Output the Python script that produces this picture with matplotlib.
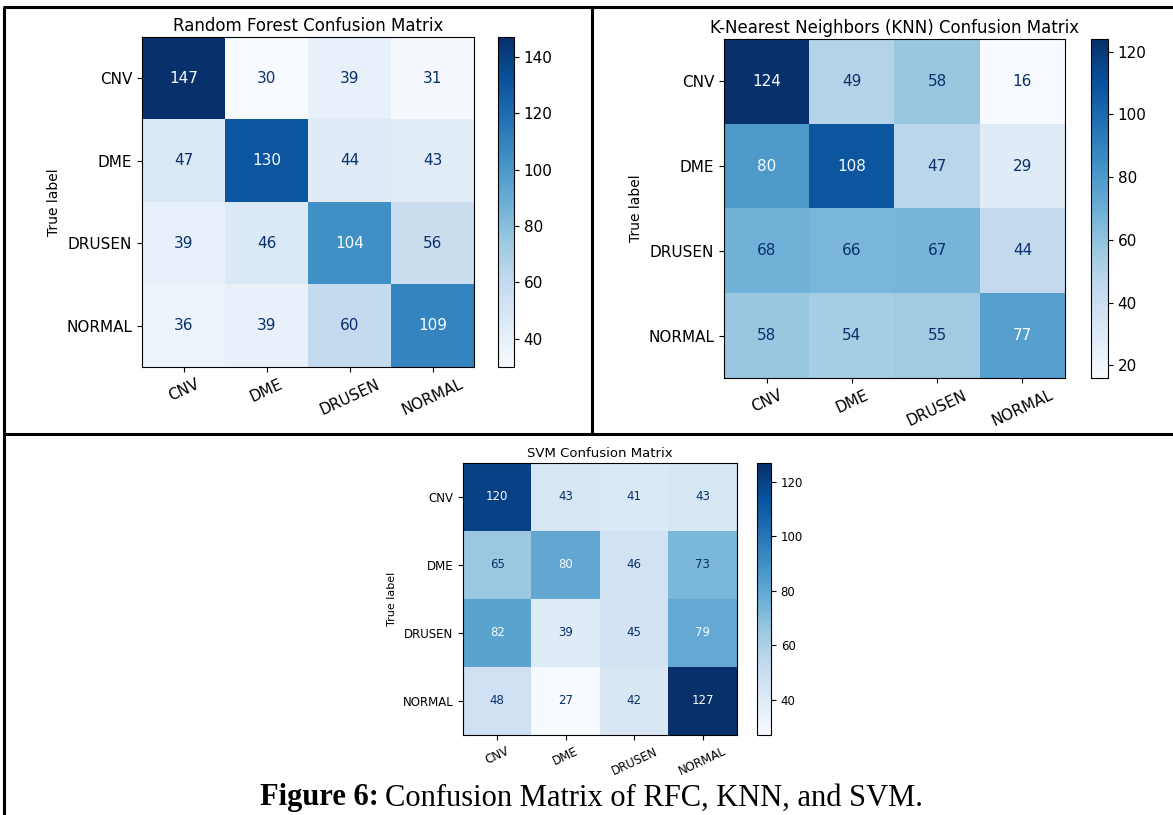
import numpy as np
import matplotlib.pyplot as plt
from matplotlib.lines import Line2D

W, H = 1173, 815

labels = ["CNV", "DME", "DRUSEN", "NORMAL"]

rf_cm = [[147, 30, 39, 31],
         [47, 130, 44, 43],
         [39, 46, 104, 56],
         [36, 39, 60, 109]]

knn_cm = [[124, 49, 58, 16],
          [80, 108, 47, 29],
          [68, 66, 67, 44],
          [58, 54, 55, 77]]

svm_cm = [[120, 43, 41, 43],
          [65, 80, 46, 73],
          [82, 39, 45, 79],
          [48, 27, 42, 127]]

titles = ["Random Forest Confusion Matrix",
          "K-Nearest Neighbors (KNN) Confusion Matrix",
          "SVM Confusion Matrix"]


def px_box(x0, y0, x1, y1):
    # pixel box (top-left origin) -> figure fraction rect
    return [x0 / W, 1 - y1 / H, (x1 - x0) / W, (y1 - y0) / H]


def draw_cm(fig, cm, title, ax_box, cb_box, fs, title_fs, ylab_fs):
    cm = np.array(cm)
    ax = fig.add_axes(px_box(*ax_box))
    cax = fig.add_axes(px_box(*cb_box))
    cmap = plt.get_cmap("Blues")
    im = ax.imshow(cm, cmap=cmap, interpolation="nearest", aspect="auto")
    thresh = (cm.max() + cm.min()) / 2.0
    for i in range(cm.shape[0]):
        for j in range(cm.shape[1]):
            color = cmap(0.0) if cm[i, j] > thresh else cmap(1.0)
            ax.text(j, i, str(cm[i, j]), ha="center", va="center",
                    color=color, fontsize=fs)
    ax.set_xticks(range(len(labels)))
    ax.set_yticks(range(len(labels)))
    ax.set_xticklabels(labels, rotation=25, fontsize=fs)
    ax.set_yticklabels(labels, fontsize=fs)
    ax.set_ylabel("True label", fontsize=ylab_fs)
    ax.set_title(title, fontsize=title_fs, pad=4)
    cb = fig.colorbar(im, cax=cax)
    cb.ax.tick_params(labelsize=fs)
    return ax


fig = plt.figure(figsize=(W / 100, H / 100), dpi=100)

draw_cm(fig, rf_cm, titles[0], (142, 37, 474, 367), (498, 37, 514, 367), 11, 12, 10)
draw_cm(fig, knn_cm, titles[1], (724, 39, 1065, 378), (1091, 39, 1108, 378), 11, 12, 10)
draw_cm(fig, svm_cm, titles[2], (463, 463, 737, 735), (757, 463, 771, 735), 8.5, 9.5, 8)

# table rules around the panels
def rule(x0, y0, x1, y1):
    fig.add_artist(Line2D([x0 / W, x1 / W], [1 - y0 / H, 1 - y1 / H],
                          color="black", lw=2.2, solid_capstyle="butt"))

rule(3, 7, W, 7)
rule(4, 7, 4, H)
rule(592, 7, 592, 434)
rule(3, 434, W, 434)

fig.text(379 / W, 1 - 798 / H, "Figure 6:", ha="right", va="center",
         family="Liberation Serif", fontweight="bold", fontsize=22)
fig.text(385 / W, 1 - 798 / H, "Confusion Matrix of RFC, KNN, and SVM.",
         ha="left", va="center", family="Liberation Serif", fontsize=22)

fig.savefig("out.png", dpi=100)
